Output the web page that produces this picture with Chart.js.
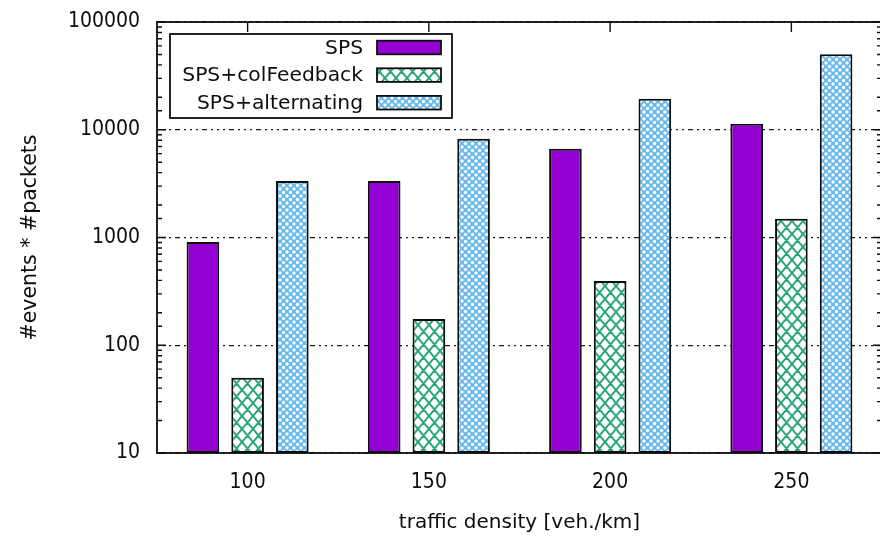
<!DOCTYPE html>
<html>
<head>
<meta charset="utf-8">
<script src="https://cdn.jsdelivr.net/npm/chart.js@4.4.1/dist/chart.umd.min.js"></script>
<style>
  html, body { margin: 0; padding: 0; background: #fff; overflow: hidden; }
  canvas { display: block; }
</style>
</head>
<body>
<canvas id="c" width="882" height="538"></canvas>
<script>
// Traffic density categories (veh./km)
const categories = ['100', '150', '200', '250'];
// #events * #packets per scheme
const spsValues = [910, 3350, 6650, 11350];
const colFeedbackValues = [50, 175, 395, 1490];
const alternatingValues = [3350, 8250, 19400, 50200];
const seriesNames = ['SPS', 'SPS+colFeedback', 'SPS+alternating'];

const NUM_FONT = '"DejaVu Sans Condensed", "DejaVu Sans", sans-serif';
const TXT_FONT = '"DejaVu Sans", sans-serif';
const INK = '#0d0d0d';

function isDecade(v) {
  const l = Math.log10(v);
  return Math.abs(l - Math.round(l)) < 1e-9;
}

// Green diagonal cross-hatch on white
function crossHatch() {
  const w = 11, h = 13;
  const c = document.createElement('canvas');
  c.width = w; c.height = h;
  const g = c.getContext('2d');
  g.fillStyle = '#fff';
  g.fillRect(0, 0, w, h);
  g.strokeStyle = '#2aa57b';
  g.lineWidth = 2;
  g.beginPath();
  for (const dx of [-w, 0, w]) {
    g.moveTo(dx, 0); g.lineTo(dx + w, h);
    g.moveTo(dx, h); g.lineTo(dx + w, 0);
  }
  g.stroke();
  return g.createPattern(c, 'repeat');
}

// Light blue with a lattice of white dots
function dotLattice() {
  const s = 7;
  const c = document.createElement('canvas');
  c.width = s; c.height = s;
  const g = c.getContext('2d');
  g.fillStyle = '#66b9ec';
  g.fillRect(0, 0, s, s);
  g.fillStyle = '#ffffff';
  const pts = [[0, 0], [s, 0], [0, s], [s, s], [s / 2, s / 2]];
  for (const [px, py] of pts) {
    g.beginPath();
    g.arc(px, py, 1.75, 0, Math.PI * 2);
    g.fill();
  }
  return g.createPattern(c, 'repeat');
}

const hatch = crossHatch();
const dots = dotLattice();

const framePlugin = {
  id: 'frame',
  beforeDatasetsDraw(chart) {
    const { ctx, chartArea: a, scales: { x, y } } = chart;
    ctx.save();
    ctx.strokeStyle = INK;
    ctx.lineWidth = 1.4;
    ctx.beginPath();
    y.ticks.forEach(t => {
      const py = y.getPixelForValue(t.value);
      const len = isDecade(t.value) ? 9 : 5;
      ctx.moveTo(a.left, py); ctx.lineTo(a.left + len, py);
      ctx.moveTo(a.right, py); ctx.lineTo(a.right - len, py);
    });
    x.ticks.forEach((t, i) => {
      const px = x.getPixelForTick(i);
      ctx.moveTo(px, a.top); ctx.lineTo(px, a.top + 10);
      ctx.moveTo(px, a.bottom); ctx.lineTo(px, a.bottom - 10);
    });
    ctx.stroke();
    ctx.restore();
  },
  afterDatasetsDraw(chart) {
    const { ctx, chartArea: a } = chart;
    ctx.save();
    ctx.strokeStyle = INK;
    ctx.lineWidth = 1.8;
    ctx.strokeRect(a.left, a.top, a.right - a.left, a.bottom - a.top);
    ctx.restore();
  },
  afterDraw(chart) {
    const { ctx } = chart;
    ctx.save();
    // legend box
    ctx.fillStyle = '#fff';
    ctx.fillRect(170, 34, 282, 84);
    ctx.strokeStyle = INK;
    ctx.lineWidth = 1.8;
    ctx.strokeRect(170, 34, 282, 84);
    ctx.font = '20.3px ' + TXT_FONT;
    ctx.textAlign = 'right';
    ctx.textBaseline = 'middle';
    chart.data.datasets.forEach((ds, i) => {
      const cy = 47.5 + i * 27.6;
      ctx.fillStyle = INK;
      ctx.fillText(ds.label, 363, cy + 1);
      ctx.fillStyle = ds.backgroundColor;
      ctx.fillRect(377, cy - 6.8, 64, 13.6);
      ctx.strokeRect(377, cy - 6.8, 64, 13.6);
    });
    ctx.restore();
  }
};

new Chart(document.getElementById('c').getContext('2d'), {
  type: 'bar',
  data: {
    labels: categories,
    datasets: [
      { label: seriesNames[0], data: spsValues, backgroundColor: '#9400d3' },
      { label: seriesNames[1], data: colFeedbackValues, backgroundColor: hatch },
      { label: seriesNames[2], data: alternatingValues, backgroundColor: dots }
    ]
  },
  options: {
    responsive: false,
    animation: false,
    layout: { padding: { top: 22, right: 0, left: 0, bottom: 0 } },
    datasets: {
      bar: {
        categoryPercentage: 0.74,
        barPercentage: 0.73,
        borderColor: INK,
        borderWidth: 2,
        borderSkipped: false
      }
    },
    plugins: { legend: { display: false }, tooltip: { enabled: false } },
    scales: {
      x: {
        grid: { display: false, drawTicks: false },
        border: { display: false },
        ticks: { font: { family: NUM_FONT, size: 21 }, color: INK, padding: 17 },
        title: {
          display: true, text: 'traffic density [veh./km]',
          font: { family: TXT_FONT, size: 20 }, color: INK,
          padding: { top: 0, bottom: 3 }
        },
        afterFit: s => { s.height = 85; s.paddingLeft = 0; s.paddingRight = 0; }
      },
      y: {
        type: 'logarithmic',
        min: 10,
        max: 100000,
        grid: {
          drawTicks: false,
          color: c => (c.tick && isDecade(c.tick.value)) ? '#1a1a1a' : 'rgba(0,0,0,0)',
          lineWidth: 1.3
        },
        border: { display: false, dash: [2, 4, 2, 4, 2, 4, 5, 4] },
        ticks: {
          autoSkip: false,
          font: { family: NUM_FONT, size: 21 }, color: INK, padding: 17,
          callback: v => isDecade(v) ? String(Math.round(v)) : ''
        },
        title: {
          display: true, text: '#events * #packets',
          font: { family: TXT_FONT, size: 20.5 }, color: INK,
          padding: { top: 18, bottom: 0 }
        },
        afterFit: s => { s.width = 157; s.paddingTop = 0; s.paddingBottom = 0; }
      }
    }
  },
  plugins: [framePlugin]
});
</script>
</body>
</html>
